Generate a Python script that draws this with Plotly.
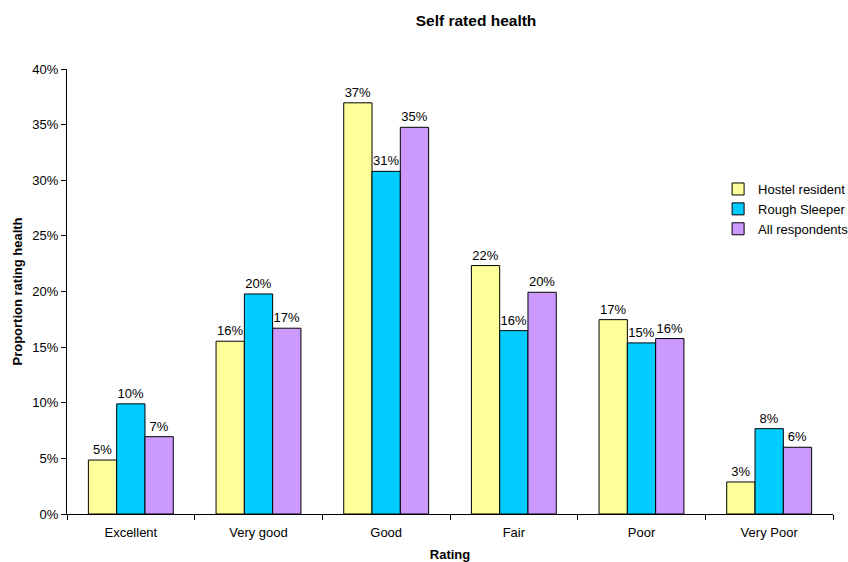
import plotly.graph_objects as go

# Self-rated health, proportion of respondents per rating
ratings = ["Excellent", "Very good", "Good", "Fair", "Poor", "Very Poor"]
hostel_resident = [0.0485, 0.1553, 0.3696, 0.2233, 0.1747, 0.0288]
rough_sleeper = [0.0990, 0.1978, 0.3080, 0.1648, 0.1538, 0.0767]
all_respondents = [0.0695, 0.1670, 0.3476, 0.1993, 0.1577, 0.0600]

series = [
    ("Hostel resident", hostel_resident, "#FFFF99"),
    ("Rough Sleeper", rough_sleeper, "#00CCFF"),
    ("All respondents", all_respondents, "#CC99FF"),
]

FONT = "Liberation Sans, Arial, sans-serif"

fig = go.Figure()
for name, vals, color in series:
    fig.add_trace(go.Bar(
        name=name,
        x=ratings,
        y=vals,
        marker=dict(color=color, line=dict(color="#000000", width=1)),
        texttemplate="%{y:.0%}",
        textposition="outside",
        textfont=dict(family=FONT, size=13, color="#000000"),
        constraintext="none",
        cliponaxis=False,
    ))

fig.update_layout(
    width=848,
    height=562,
    paper_bgcolor="white",
    plot_bgcolor="white",
    barmode="group",
    bargap=0.335,
    bargroupgap=0,
    margin=dict(l=67, r=15, t=69, b=48, autoexpand=False),
    font=dict(family=FONT, size=13, color="#000000"),
    title=dict(
        text="<b>Self rated health</b>",
        font=dict(family=FONT, size=15.5, color="#000000"),
        x=0.534, xref="paper", xanchor="center",
        y=0.964, yref="container", yanchor="middle",
    ),
    legend=dict(
        x=0.85, xanchor="left",
        y=0.764, yanchor="top",
        font=dict(family=FONT, size=13, color="#000000"),
        bgcolor="rgba(0,0,0,0)",
        itemclick=False,
    ),
    showlegend=True,
)

fig.update_xaxes(
    type="category",
    showline=True, linecolor="#000000", linewidth=1,
    ticks="outside", tickson="boundaries", ticklen=5, tickcolor="#000000",
    showgrid=False,
    tickfont=dict(family=FONT, size=13),
    ticklabelstandoff=6,
    title=dict(text="<b>Rating</b>", font=dict(family=FONT, size=13), standoff=12),
)

fig.update_yaxes(
    range=[0, 0.40],
    dtick=0.05,
    tickformat=".0%",
    showline=True, linecolor="#000000", linewidth=1,
    ticks="outside", ticklen=5, tickcolor="#000000",
    showgrid=False, zeroline=False,
    tickfont=dict(family=FONT, size=13),
    title=dict(text="<b>Proportion rating health</b>", font=dict(family=FONT, size=13), standoff=6),
)

fig.write_html("out.html")
